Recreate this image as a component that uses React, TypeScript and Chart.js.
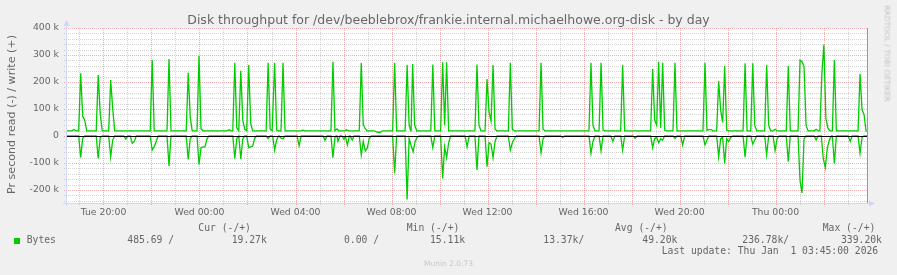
import React, { useEffect, useRef } from 'react';
import { Chart, registerables } from 'chart.js';

Chart.register(...registerables);

// ---------------- data ----------------
// time axis: hours since Tue 00:00
const X_MIN = 18.48;
const X_MAX = 51.81;
const SAMPLE_HOURS = 5 / 60; // munin 5-minute samples

const xTickHours = [20, 24, 28, 32, 36, 40, 44, 48];
const xTickLabels = ['Tue 20:00', 'Wed 00:00', 'Wed 04:00', 'Wed 08:00', 'Wed 12:00', 'Wed 16:00', 'Wed 20:00', 'Thu 00:00'];

const Y_MIN = -248000;
const Y_MAX = 400000;
const yTickValues = [-200000, -100000, 0, 100000, 200000, 300000, 400000];
const yTickLabels = ['-200 k', '-100 k', '0', '100 k', '200 k', '300 k', '400 k'];

// write (+), values in k bytes/s
const writeBaseline = 19.3;
const writeSpikeStart = [
  18.77, 19.05, 19.78, 20.30, 22.03, 22.73, 23.53, 23.98, 25.23, 25.47, 25.72, 26.05, 26.86, 27.13, 27.48,
  28.31, 29.56, 30.12, 30.74, 31.37, 32.13, 32.65, 32.88, 33.72, 34.13, 35.56, 35.98, 36.95, 38.23,
  40.31, 40.73, 41.63, 42.88, 43.81, 45.06, 45.63, 46.73, 47.05, 47.63, 47.98, 48.53, 49.02, 49.69,
  49.93, 50.45, 51.52,
];
const writeSpikeValues = [
  [24], [232, 72, 60], [226, 84], [207, 102], [281], [285], [234, 71], [297, 26], [23], [271, 30], [242, 59, 25],
  [263, 47], [271, 25], [271, 22], [271],
  [22], [275, 19, 26], [23], [271, 41, 27], [15, 14, 14], [271], [263, 42], [267, 42], [265], [273, 40, 273],
  [265, 40], [211, 90, 55, 263, 25], [271, 25], [271, 25],
  [271, 40], [271, 22], [263], [248, 60, 40, 275, 30, 271, 22], [271], [271, 22, 24, 24], [204, 96, 50, 259, 22],
  [269], [269, 40], [263, 40], [25], [259], [281, 275, 257, 40], [25],
  [232, 339, 65, 30], [281], [230, 96, 80],
];

// read (-), values in k bytes/s
const readBaseline = 0;
const readSpikeStart = [
  19.05, 19.78, 20.30, 20.93, 21.20, 22.03, 22.73, 23.53, 23.98, 25.47, 25.72, 26.05, 26.86, 27.13, 27.40,
  28.15, 29.23, 29.56, 29.77, 30.02, 30.16, 30.36, 30.74, 32.13, 32.65, 33.72, 34.13, 35.15, 35.56, 35.98,
  36.95, 38.23, 39.13, 40.31, 40.73, 41.22, 41.63, 42.15, 42.88, 43.81, 44.13, 45.06, 45.63, 46.73, 47.05,
  47.63, 47.98, 48.53, 49.02, 49.69, 49.99, 50.45, 51.11, 51.52,
];
const readSpikeValues = [
  [-79, -8], [-83, -6], [-77, -15], [-11], [-27, -20], [-52, -40, -20], [-111], [-87, -10], [-105, -43, -40, -40, -10],
  [-83, -10], [-85, -10], [-43, -40, -37, -8], [-10], [-52, -15], [-8, -10],
  [-36], [-16], [-80, -5], [-20], [-12], [-33], [-15], [-70, -20, -55, -45, -8], [-138], [-235, -10, -35, -58, -20, -5],
  [-43], [-157, -40, -80, -25], [-40], [-126], [-114, -25, -30, -80, -20],
  [-52, -25, -10], [-62, -10], [-5], [-64, -20], [-55], [-20], [-52], [-8], [-43, -10, -5, -25, -10, -15],
  [-8], [-33], [-33, -15], [-77, -10, -5, -101, -10, -20, -5], [-78], [-30, -15],
  [-70], [-54, -10], [-95], [-165, -211, -10], [-15], [-85, -117, -45, -15], [-101], [-20], [-63, -5],
];

const TITLE = 'Disk throughput for /dev/beeblebrox/frankie.internal.michaelhowe.org-disk - by day';
const Y_TITLE = 'Pr second read (-) / write (+)';
const seriesName = 'Bytes';
const legendHeaders = ['Cur (-/+)', 'Min (-/+)', 'Avg (-/+)', 'Max (-/+)'];
const readStats = ['485.69 /', '0.00 /', '13.37k/', '236.78k/'];
const writeStats = ['19.27k', '15.11k', '49.20k', '339.20k'];
const lastUpdate = 'Last update: Thu Jan  1 03:45:00 2026';
const muninVersion = 'Munin 2.0.73';
const rrdWatermark = 'RRDTOOL / TOBI OETIKER';

// ---------------- styling ----------------
const LINE_COLOR = '#00cc00';
const FONT_COLOR = '#666666';
const AXIS_COLOR = '#cfd6f8';
const GRID_MINOR = 'rgba(143,143,143,0.38)';
const GRID_MAJOR = 'rgba(222,79,79,0.45)';

function buildSeries(starts: number[], values: number[][], base: number) {
  const pts: { x: number; y: number }[] = [{ x: X_MIN, y: base * 1000 }];
  starts.forEach((t, i) => {
    const vals = values[i];
    pts.push({ x: t - SAMPLE_HOURS, y: base * 1000 });
    vals.forEach((v, k) => pts.push({ x: t + k * SAMPLE_HOURS, y: v * 1000 }));
    pts.push({ x: t + vals.length * SAMPLE_HOURS, y: base * 1000 });
  });
  pts.push({ x: X_MAX, y: base * 1000 });
  pts.sort((a, b) => a.x - b.x);
  return pts;
}

const rrdPlugin = {
  id: 'rrdGrid',
  beforeDraw(chart: any) {
    const { ctx, chartArea: a } = chart;
    ctx.save();
    ctx.fillStyle = '#ffffff';
    ctx.fillRect(a.left, a.top, a.right - a.left, a.bottom - a.top);
    ctx.restore();
  },
  beforeDatasetsDraw(chart: any) {
    const { ctx, chartArea: a, scales } = chart;
    const xs = scales.x;
    const ys = scales.y;
    const line = (x1: number, y1: number, x2: number, y2: number) => {
      ctx.beginPath();
      ctx.moveTo(x1, y1);
      ctx.lineTo(x2, y2);
      ctx.stroke();
    };
    ctx.save();
    ctx.lineWidth = 1;
    ctx.setLineDash([1, 1]);
    for (const major of [false, true]) {
      ctx.strokeStyle = major ? GRID_MAJOR : GRID_MINOR;
      for (let h = Math.ceil(X_MIN); h <= X_MAX; h++) {
        if ((h % 2 === 0) !== major) continue;
        const px = Math.round(xs.getPixelForValue(h)) + 0.5;
        line(px, a.top, px, a.bottom + 3);
      }
      for (let v = -240000; v <= 400000; v += 20000) {
        if ((v % 100000 === 0) !== major) continue;
        const py = Math.round(ys.getPixelForValue(v)) + 0.5;
        line(a.left - 3, py, a.right, py);
      }
    }
    ctx.setLineDash([]);
    // right frame
    ctx.strokeStyle = '#9a9a9a';
    line(a.right + 0.5, a.top, a.right + 0.5, a.bottom + 1);
    // axes
    ctx.strokeStyle = AXIS_COLOR;
    ctx.fillStyle = AXIS_COLOR;
    const ax = a.left - 0.5;
    const ay = a.bottom + 0.5;
    line(ax, a.bottom + 3, ax, a.top - 4);
    line(a.left - 4, ay, a.right + 2, ay);
    ctx.beginPath();
    ctx.moveTo(ax, a.top - 8);
    ctx.lineTo(ax - 3, a.top - 2);
    ctx.lineTo(ax + 3, a.top - 2);
    ctx.closePath();
    ctx.fill();
    ctx.beginPath();
    ctx.moveTo(a.right + 8, ay);
    ctx.lineTo(a.right + 2, ay - 3);
    ctx.lineTo(a.right + 2, ay + 3);
    ctx.closePath();
    ctx.fill();
    ctx.restore();
  },
  afterDatasetsDraw(chart: any) {
    const { ctx, chartArea: a, scales } = chart;
    const py = Math.round(scales.y.getPixelForValue(0)) + 0.5;
    ctx.save();
    ctx.strokeStyle = '#000000';
    ctx.lineWidth = 1;
    ctx.beginPath();
    ctx.moveTo(a.left, py);
    ctx.lineTo(a.right, py);
    ctx.stroke();
    ctx.restore();
  },
};

const MONO = "'DejaVu Sans Mono', monospace";
const SANS = "'DejaVu Sans', sans-serif";

function Txt(props: { x: number; y: number; text: string; size?: number; mono?: boolean; color?: string }) {
  return (
    <div
      style={{
        position: 'absolute',
        left: props.x,
        top: props.y,
        fontFamily: props.mono ? MONO : SANS,
        fontSize: props.size ?? 9.72,
        lineHeight: '12px',
        whiteSpace: 'pre',
        color: props.color ?? FONT_COLOR,
      }}
    >
      {props.text}
    </div>
  );
}

export default function App() {
  const ref = useRef<HTMLCanvasElement>(null);

  useEffect(() => {
    const writeData = buildSeries(writeSpikeStart, writeSpikeValues, writeBaseline);
    const readData = buildSeries(readSpikeStart, readSpikeValues, readBaseline);
    const tickFont = { family: "'DejaVu Sans'", size: 9.3 };
    const chart = new Chart(ref.current as HTMLCanvasElement, {
      type: 'line',
      data: {
        datasets: [
          { label: 'write', data: writeData, borderColor: LINE_COLOR, borderWidth: 1.3, pointRadius: 0, fill: false, tension: 0 },
          { label: 'read', data: readData, borderColor: LINE_COLOR, borderWidth: 1.3, pointRadius: 0, fill: false, tension: 0 },
        ],
      },
      options: {
        responsive: false,
        maintainAspectRatio: false,
        animation: false,
        devicePixelRatio: 1,
        events: [],
        layout: { padding: { left: 0, top: 28, right: 30, bottom: 42 } },
        plugins: { legend: { display: false }, tooltip: { enabled: false }, title: { display: false } },
        scales: {
          x: {
            type: 'linear',
            min: X_MIN,
            max: X_MAX,
            afterBuildTicks: (s: any) => {
              s.ticks = xTickHours.map((v) => ({ value: v }));
            },
            afterFit: (s: any) => {
              s.height = 30;
            },
            grid: { display: false, drawTicks: false },
            border: { display: false },
            ticks: {
              autoSkip: false,
              maxRotation: 0,
              minRotation: 0,
              padding: 4,
              color: FONT_COLOR,
              font: tickFont,
              callback: (_v: any, i: number) => xTickLabels[i],
            },
          },
          y: {
            type: 'linear',
            min: Y_MIN,
            max: Y_MAX,
            afterBuildTicks: (s: any) => {
              s.ticks = yTickValues.map((v) => ({ value: v }));
            },
            afterFit: (s: any) => {
              s.width = 67;
            },
            grid: { display: false, drawTicks: false },
            border: { display: false },
            ticks: {
              padding: 8,
              color: FONT_COLOR,
              font: tickFont,
              callback: (_v: any, i: number) => yTickLabels[i],
            },
          },
        },
      },
      plugins: [rrdPlugin],
    } as any);
    return () => chart.destroy();
  }, []);

  const headerX = [198.3, 406.7, 615, 822.7];
  const readX = [127.3, 344, 543.3, 742.3];
  const writeX = [231.7, 430, 642.3, 841];

  return (
    <div
      style={{
        position: 'absolute',
        left: 0,
        top: 0,
        width: 897,
        height: 275,
        background: '#f0f0f0',
        overflow: 'hidden',
      }}
    >
      <canvas ref={ref} width={897} height={275} style={{ position: 'absolute', left: 0, top: 0, width: 897, height: 275 }} />
      <div
        style={{
          position: 'absolute',
          left: 0,
          top: 12.2,
          width: 897,
          textAlign: 'center',
          fontFamily: SANS,
          fontSize: 12.5,
          lineHeight: '15px',
          color: FONT_COLOR,
          whiteSpace: 'pre',
        }}
      >
        {TITLE}
      </div>
      <div
        style={{
          position: 'absolute',
          left: 11.2 - 100,
          top: 114.2 - 6.5,
          width: 200,
          height: 13,
          textAlign: 'center',
          fontFamily: SANS,
          fontSize: 11.1,
          lineHeight: '13px',
          color: FONT_COLOR,
          whiteSpace: 'pre',
          transform: 'rotate(-90deg)',
          transformOrigin: '50% 50%',
        }}
      >
        {Y_TITLE}
      </div>
      <div
        style={{
          position: 'absolute',
          left: 887.1 - 60,
          top: 53.5 - 4.5,
          width: 120,
          height: 9,
          textAlign: 'center',
          fontFamily: SANS,
          fontSize: 7.5,
          lineHeight: '9px',
          color: '#c4c4c4',
          whiteSpace: 'pre',
          transform: 'rotate(90deg)',
          transformOrigin: '50% 50%',
        }}
      >
        {rrdWatermark}
      </div>
      {legendHeaders.map((h, i) => (
        <Txt key={'h' + i} x={headerX[i]} y={221.6} text={h} mono />
      ))}
      <div style={{ position: 'absolute', left: 14, top: 237.5, width: 6, height: 6, background: LINE_COLOR }} />
      <Txt x={26.7} y={233.9} text={seriesName} mono />
      {readStats.map((s, i) => (
        <Txt key={'r' + i} x={readX[i]} y={233.9} text={s} mono />
      ))}
      {writeStats.map((s, i) => (
        <Txt key={'w' + i} x={writeX[i]} y={233.9} text={s} mono />
      ))}
      <Txt x={661.7} y={245.4} text={lastUpdate} mono />
      <div
        style={{
          position: 'absolute',
          left: 0,
          top: 259.1,
          width: 897,
          textAlign: 'center',
          fontFamily: SANS,
          fontSize: 7.5,
          lineHeight: '10px',
          color: '#c8c8c8',
          whiteSpace: 'pre',
        }}
      >
        {muninVersion}
      </div>
    </div>
  );
}
